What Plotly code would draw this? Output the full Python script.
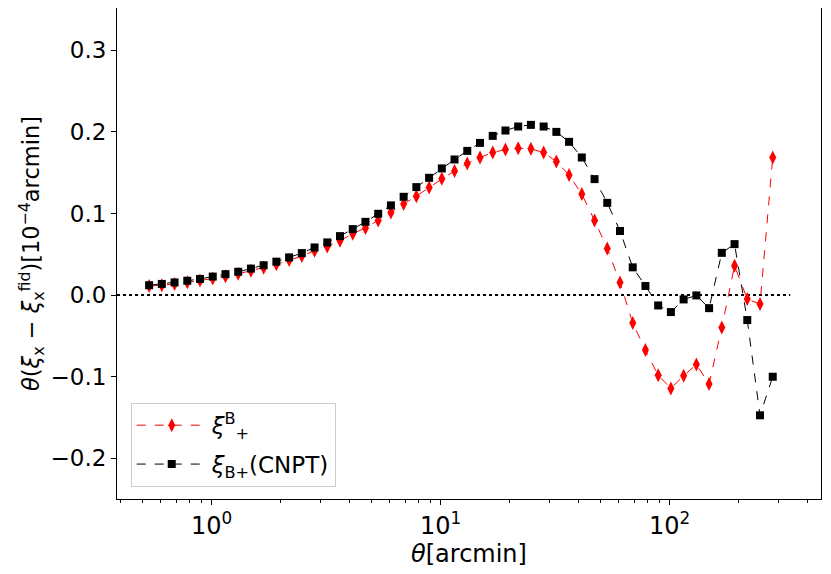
import plotly.graph_objects as go

# angular bin centres, 50 log bins between 0.5 and 300 arcmin
theta = [0.5330, 0.6057, 0.6884, 0.7824, 0.8892, 1.0106, 1.1486, 1.3054, 1.4836, 1.6861,
         1.9163, 2.1779, 2.4752, 2.8131, 3.1971, 3.6336, 4.1296, 4.6934, 5.3340, 6.0622,
         6.8898, 7.8303, 8.8992, 10.114, 11.495, 13.064, 14.848, 16.875, 19.178, 21.797,
         24.772, 28.154, 31.997, 36.365, 41.330, 46.972, 53.384, 60.672, 68.954, 78.367,
         89.066, 101.22, 115.04, 130.75, 148.60, 168.88, 191.94, 218.14, 247.92, 281.77]

xi_b_plus = [0.0110, 0.0122, 0.0135, 0.0156, 0.0178, 0.0202, 0.0232, 0.0261, 0.0300, 0.0336,
             0.0377, 0.0429, 0.0478, 0.0544, 0.0596, 0.0666, 0.0752, 0.0824, 0.0915, 0.1014,
             0.1117, 0.1213, 0.1320, 0.1425, 0.1523, 0.1614, 0.1687, 0.1748, 0.1785, 0.1801,
             0.1793, 0.1748, 0.1638, 0.1471, 0.1238, 0.0915, 0.0572, 0.0155, -0.0343, -0.0674,
             -0.0984, -0.1144, -0.0989, -0.0850, -0.1091, -0.0396, 0.0359, -0.0049, -0.0110, 0.1687]

xi_b_cnpt = [0.0121, 0.0137, 0.0155, 0.0176, 0.0198, 0.0227, 0.0257, 0.0286, 0.0325, 0.0366,
             0.0410, 0.0462, 0.0515, 0.0584, 0.0646, 0.0723, 0.0809, 0.0898, 0.0997, 0.1100,
             0.1205, 0.1324, 0.1438, 0.1553, 0.1663, 0.1768, 0.1866, 0.1952, 0.2018, 0.2067,
             0.2087, 0.2067, 0.2001, 0.1879, 0.1687, 0.1422, 0.1131, 0.0786, 0.0340, 0.0112,
             -0.0127, -0.0208, -0.0053, -0.0004, -0.0160, 0.0518, 0.0625, -0.0306, -0.1474, -0.1001]

zero_x = [0.386, 336.0]
zero_y = [0.0, 0.0]

tick_vals = [1, 10, 100]
tick_text = ['10<sup>0</sup>', '10<sup>1</sup>', '10<sup>2</sup>']

font = 'DejaVu Sans'

fig = go.Figure()

fig.add_trace(go.Scatter(
    x=zero_x, y=zero_y, mode='lines',
    line=dict(color='black', width=2, dash='dot'),
    showlegend=False, hoverinfo='skip'
))

fig.add_trace(go.Scatter(
    x=theta, y=xi_b_plus, mode='lines+markers',
    name='<i>ξ</i><sup>B</sup><sub>+</sub>', legendgroup='a',
    line=dict(color='red', width=1, dash='dash'),
    marker=dict(symbol='diamond-tall', size=10, color='red')
))

fig.add_trace(go.Scatter(
    x=theta, y=xi_b_cnpt, mode='lines+markers',
    name='<i>ξ</i><sub>B+</sub>(CNPT)', legendgroup='b',
    line=dict(color='black', width=1, dash='dash'),
    marker=dict(symbol='square', size=8, color='black')
))

fig.update_xaxes(
    type='log', range=[-0.4135, 2.6607],
    tickvals=tick_vals, ticktext=tick_text,
    ticks='outside', ticklen=5, tickwidth=1, tickcolor='black',
    minor=dict(ticks='outside', ticklen=3, tickcolor='black', dtick='D1'),
    showgrid=False, zeroline=False,
    showline=True, linecolor='black', linewidth=1, mirror=True,
    tickfont=dict(size=24, color='black'),
    title=dict(text='<i>θ</i>[arcmin]', font=dict(size=24, color='black'), standoff=0)
)

fig.update_yaxes(
    range=[-0.250, 0.352],
    tickvals=[-0.2, -0.1, 0.0, 0.1, 0.2, 0.3],
    ticktext=['−0.2', '−0.1', '0.0', '0.1', '0.2', '0.3'],
    ticks='outside', ticklen=5, tickwidth=1, tickcolor='black',
    showgrid=False, zeroline=False,
    showline=True, linecolor='black', linewidth=1, mirror=True,
    tickfont=dict(size=23, color='black'),
    title=dict(text='<i>θ</i>(<i>ξ</i><sub>x</sub> − <i>ξ</i><sub>x</sub><sup>fid</sup>)[10<sup>−4</sup>arcmin]',
               font=dict(size=22.5, color='black'), standoff=4)
)

# page body has an 8px margin, so the figure is trimmed by that much
fig.update_layout(
    width=823, height=566,
    margin=dict(l=109, r=10, t=0, b=75),
    paper_bgcolor='white', plot_bgcolor='white',
    font=dict(family=font, color='black'),
    legend=dict(
        x=0.0195, y=0.025, xanchor='left', yanchor='bottom',
        bgcolor='rgba(255,255,255,0.8)', bordercolor='#cccccc', borderwidth=1,
        font=dict(size=23, color='black'),
        itemwidth=70, tracegroupgap=6
    )
)

fig.write_html("out.html")
